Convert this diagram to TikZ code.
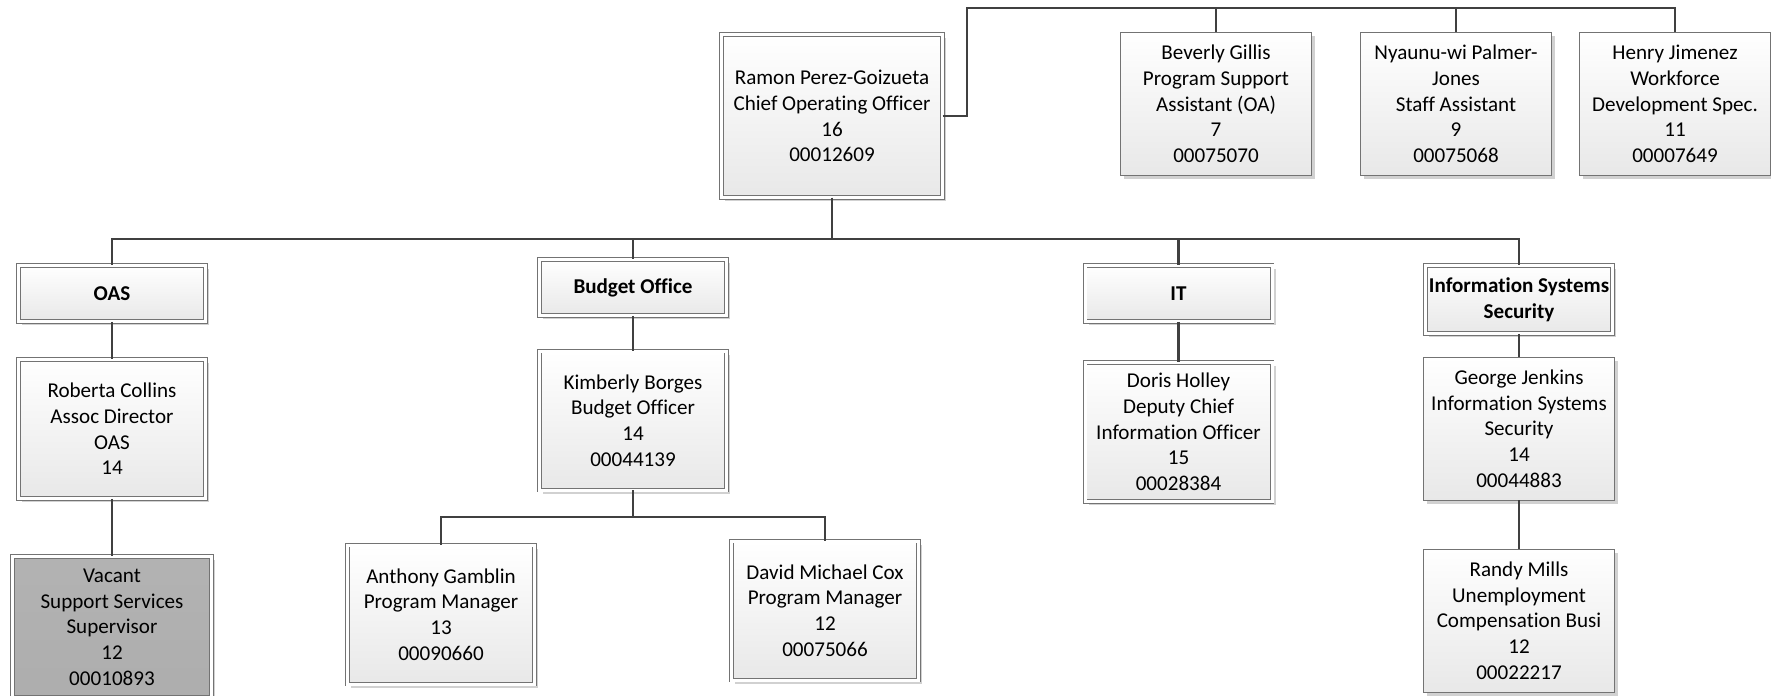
\documentclass[tikz,border=0pt]{standalone}
\usepackage{fontspec}
\setmainfont{Carlito}[Script=Latin, Ligatures={NoCommon,NoContextual}, RawFeature={-clig;-rlig}]
\usetikzlibrary{shadows}

\tikzset{
  card/.style={rectangle, draw=black!55, line width=0.5pt, top color=white, bottom color=black!9,
    align=center, inner sep=0pt, font=\fontsize{12pt}{14.6pt}\selectfont,
    drop shadow={shadow xshift=0.07cm, shadow yshift=-0.07cm, fill=black, opacity=0.18},
    minimum width=3.82cm, minimum height=2.86cm},
  dcard/.style={card, double=white, double distance=0.06cm, minimum width=3.74cm, minimum height=2.78cm},
  dept/.style={dcard, minimum height=1.12cm, font=\fontsize{12pt}{14.6pt}\selectfont\bfseries},
  vacantcard/.style={dcard, top color=black!30, bottom color=black!32, minimum width=3.98cm, minimum height=2.82cm},
  link/.style={draw=black!75, line width=1.6pt}
}

\begin{document}
\begin{tikzpicture}
\useasboundingbox (0,0) rectangle (35.42,-13.92);

\coordinate (topbus) at (0,-0.16);
\coordinate (mainbus) at (0,-4.78);
\coordinate (subbus) at (0,-10.34);

\node[dcard, minimum width=4.42cm, minimum height=3.26cm] (coo) at (16.64,-2.32) {Ramon Perez-Goizueta\\Chief Operating Officer\\16\\00012609};
\node[card] (beverly) at (24.32,-2.08) {Beverly Gillis\\Program Support\\Assistant (OA)\\7\\00075070};
\node[card] (nyaunu) at (29.12,-2.08) {Nyaunu-wi Palmer-\\Jones\\Staff Assistant\\9\\00075068};
\node[card] (henry) at (33.50,-2.08) {Henry Jimenez\\Workforce\\Development Spec.\\11\\00007649};

\node[dept] (oas) at (2.24,-5.87) {OAS};
\node[dept] (budget) at (12.66,-5.75) {Budget Office};
\node[dept] (it) at (23.57,-5.87) {IT};
\node[dept, minimum height=1.36cm] (iss) at (30.38,-5.99) {Information Systems\\Security};

\node[dcard] (roberta) at (2.24,-8.58) {Roberta Collins\\Assoc Director\\OAS\\14};
\node[dcard] (kimberly) at (12.66,-8.41) {Kimberly Borges\\Budget Officer\\14\\00044139};
\node[dcard] (doris) at (23.57,-8.64) {Doris Holley\\Deputy Chief\\Information Officer\\15\\00028384};
\node[card] (george) at (30.38,-8.57) {George Jenkins\\Information Systems\\Security\\14\\00044883};

\node[vacantcard] (vacant) at (2.24,-12.54) {Vacant\\Support Services\\Supervisor\\12\\00010893};
\node[dcard] (anthony) at (8.82,-12.29) {Anthony Gamblin\\Program Manager\\13\\00090660};
\node[dcard] (david) at (16.50,-12.21) {David Michael Cox\\Program Manager\\12\\00075066};
\node[card] (randy) at (30.38,-12.41) {Randy Mills\\Unemployment\\Compensation Busi\\12\\00022217};

\foreach \n in {beverly,nyaunu,henry}
  \draw[link] (coo.east) -- ++(0.48,0) |- (topbus -| \n.north) -- (\n.north);
\foreach \n in {oas,budget,it,iss}
  \draw[link] (coo.south) -- (coo.south |- mainbus) -| (\n.north);
\foreach \n in {anthony,david}
  \draw[link] (kimberly.south) -- (kimberly.south |- subbus) -| (\n.north);

\draw[link] (oas.south) -- (roberta.north);
\draw[link] (roberta.south) -- (vacant.north);
\draw[link] (budget.south) -- (kimberly.north);
\draw[link] (it.south) -- (doris.north);
\draw[link] (iss.south) -- (george.north);
\draw[link] (george.south) -- (randy.north);
\end{tikzpicture}
\end{document}
